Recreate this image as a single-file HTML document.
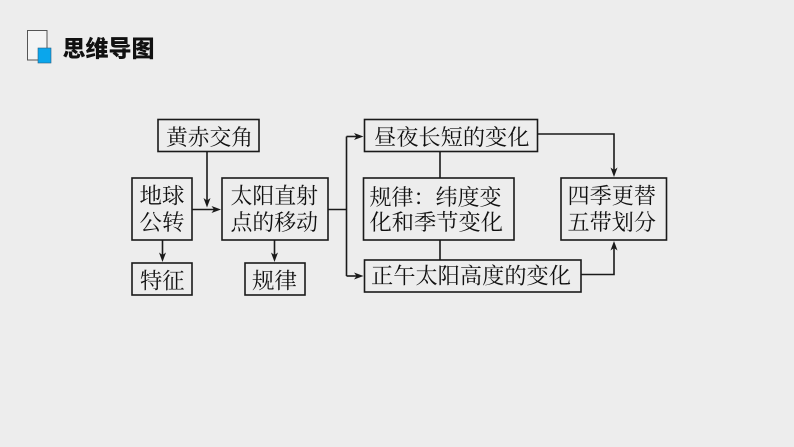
<!DOCTYPE html>
<html><head><meta charset="utf-8"><style>
html,body{margin:0;padding:0;background:#ededed;}
svg{display:block;}
.t{font-family:"Noto Serif CJK SC","Liberation Serif",serif;font-size:22px;fill:#111;}
.h{font-family:"Noto Sans CJK SC","Liberation Sans",sans-serif;font-size:23px;font-weight:900;fill:#111;}
</style></head><body>
<svg width="794" height="447" viewBox="0 0 794 447" xmlns="http://www.w3.org/2000/svg">
<rect x="0" y="0" width="794" height="447" fill="#ededed"/>
<!-- title icon -->
<rect x="27.5" y="30.5" width="19.5" height="29.5" fill="#f4f4f4" stroke="#555" stroke-width="1"/>
<rect x="38" y="48" width="13" height="15" fill="#0aa6ec" stroke="#2a5f80" stroke-width="0.6"/>
<text class="h" x="62.5" y="56.5" textLength="92" lengthAdjust="spacingAndGlyphs">思维导图</text>

<g fill="none" stroke="#1a1a1a" stroke-width="1.6">
  <!-- boxes -->
  <rect x="158" y="119.5" width="101" height="32"/>
  <rect x="132" y="178" width="60" height="62"/>
  <rect x="222" y="178" width="106" height="62"/>
  <rect x="132" y="263" width="60" height="32"/>
  <rect x="245" y="263" width="60" height="32"/>
  <rect x="364.5" y="119.5" width="173" height="32"/>
  <rect x="363.5" y="178" width="150.5" height="62"/>
  <rect x="364.5" y="260" width="216.5" height="32"/>
  <rect x="561" y="178" width="105.5" height="62"/>
  <!-- connectors -->
  <path d="M207 152 V204"/>
  <path d="M192 209.5 H214"/>
  <path d="M162.5 240 V256"/>
  <path d="M274.5 240 V256"/>
  <path d="M328 209.5 H346.5"/>
  <path d="M346.5 136.5 V276"/>
  <path d="M346.5 136.5 H357"/>
  <path d="M346.5 276 H357"/>
  <path d="M440 151.5 V178"/>
  <path d="M440 240 V260"/>
  <path d="M537.5 134 H614 V171"/>
  <path d="M581 274.5 H614 V247"/>
</g>
<g fill="#1a1a1a">
  <polygon points="207,207.5 203.5,198 207,200.5 210.5,198"/>
  <polygon points="221,209.5 211.5,206 214,209.5 211.5,213"/>
  <polygon points="162.5,262 159,252.5 162.5,255 166,252.5"/>
  <polygon points="274.5,262 271,252.5 274.5,255 278,252.5"/>
  <polygon points="363.5,136.5 354,133 356.5,136.5 354,140"/>
  <polygon points="363.5,276 354,272.5 356.5,276 354,279.5"/>
  <polygon points="614,177 610.5,167.5 614,170 617.5,167.5"/>
  <polygon points="614,241 610.5,250.5 614,248 617.5,250.5"/>
</g>

<text class="t" x="166" y="145" textLength="87" lengthAdjust="spacingAndGlyphs">黄赤交角</text>
<text class="t" x="139.5" y="203.5" textLength="45" lengthAdjust="spacingAndGlyphs">地球</text>
<text class="t" x="139.5" y="230" textLength="45" lengthAdjust="spacingAndGlyphs">公转</text>
<text class="t" x="230.5" y="203.5" textLength="87.5" lengthAdjust="spacingAndGlyphs">太阳直射</text>
<text class="t" x="230.5" y="230" textLength="87.5" lengthAdjust="spacingAndGlyphs">点的移动</text>
<text class="t" x="140" y="288.5" textLength="44.5" lengthAdjust="spacingAndGlyphs">特征</text>
<text class="t" x="252" y="288.5" textLength="45" lengthAdjust="spacingAndGlyphs">规律</text>
<text class="t" x="374" y="145" textLength="155.5" lengthAdjust="spacingAndGlyphs">昼夜长短的变化</text>
<text class="t" x="369.5" y="205" textLength="132" lengthAdjust="spacingAndGlyphs">规律：纬度变</text>
<text class="t" x="369.5" y="230" textLength="133.5" lengthAdjust="spacingAndGlyphs">化和季节变化</text>
<text class="t" x="371" y="283.5" textLength="200" lengthAdjust="spacingAndGlyphs">正午太阳高度的变化</text>
<text class="t" x="567.5" y="203.5" textLength="88.5" lengthAdjust="spacingAndGlyphs">四季更替</text>
<text class="t" x="567.5" y="230" textLength="88.5" lengthAdjust="spacingAndGlyphs">五带划分</text>
</svg>
</body></html>
